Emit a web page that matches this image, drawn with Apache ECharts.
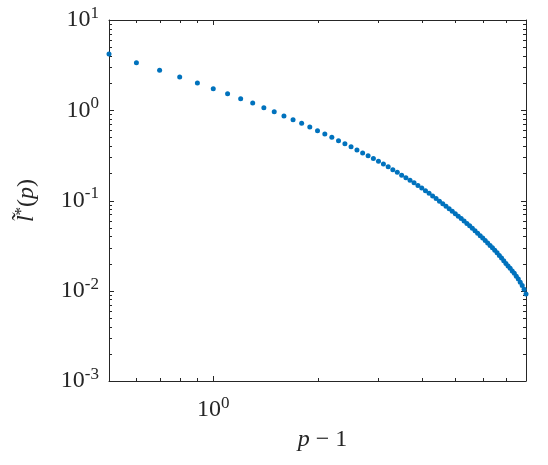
<!DOCTYPE html>
<html>
<head>
<meta charset="utf-8">
<script src="https://cdn.jsdelivr.net/npm/echarts@6/dist/echarts.min.js"></script>
<style>html,body{margin:0;padding:0;background:#fff}#c{width:548px;height:465px}</style>
</head>
<body>
<div id="c"></div>
<script>
// p - 1 values
const xValues = [0.5,0.6,0.7,0.8,0.9,1.0,1.1,1.2,1.3,1.4,1.5,1.6,1.7,1.8,1.9,2.0,2.1,2.2,2.3,2.4,2.5,2.6,2.7,2.8,2.9,3.0,3.1,3.2,3.3,3.4,3.5,3.6,3.7,3.8,3.9,4.0,4.1,4.2,4.3,4.4,4.5,4.6,4.7,4.8,4.9,5.0,5.1,5.2,5.3,5.4,5.5,5.6,5.7,5.8,5.9,6.0,6.1,6.2,6.3,6.4,6.5,6.6,6.7,6.8,6.9,7.0,7.1,7.2,7.3,7.4,7.5,7.6,7.7,7.8,7.9,8.0];
// l~*(p) values
const yValues = [4.20,3.365,2.767,2.333,2.005,1.734,1.528,1.343,1.202,1.067,0.964,0.863,0.783,0.716,0.652,0.594,0.545,0.501,0.460,0.425,0.393,0.363,0.337,0.313,0.292,0.272,0.253,0.236,0.219,0.205,0.191,0.179,0.1675,0.157,0.147,0.1374,0.1285,0.1202,0.1125,0.1052,0.0984,0.0923,0.0865,0.0811,0.0760,0.0714,0.0671,0.0631,0.0593,0.0557,0.0524,0.0492,0.0462,0.0435,0.0408,0.0384,0.0361,0.0339,0.0318,0.0299,0.0281,0.0263,0.0246,0.0230,0.0215,0.0201,0.0188,0.0177,0.0166,0.0156,0.0145,0.0135,0.0124,0.0114,0.0104,0.0092];

const xMajorTicks = [1];
const xMinorTicks = [0.6,0.7,0.8,0.9,2,3,4,5,6,7];
const xLabelTicks = [1];
const yMajorTicks = [0.001,0.01,0.1,1,10];
const yMinorTicks = [0.002,0.003,0.004,0.005,0.006,0.007,0.008,0.009,
                     0.02,0.03,0.04,0.05,0.06,0.07,0.08,0.09,
                     0.2,0.3,0.4,0.5,0.6,0.7,0.8,0.9,
                     2,3,4,5,6,7,8,9];

const X_MIN = 0.5, X_MAX = 8, Y_MIN = 0.001, Y_MAX = 10;
const AX = '#262626';
const FONT = '"Liberation Serif", "Times New Roman", serif';
const pts = xValues.map((x, i) => [x, yValues[i]]);

function supLabel(v) {
  const e = Math.round(Math.log10(v));
  return '{b|10}{s|' + e + '}';
}
const rich = {
  b: {fontSize: 24, fontFamily: FONT, color: AX},
  s: {fontSize: 17, fontFamily: FONT, color: AX, padding: [0, 0, 13, 0]}
};

function xAx(pos, labels) {
  return {
    type: 'log', logBase: 10, min: X_MIN, max: X_MAX, position: pos,
    axisLine: {show: true, onZero: false, lineStyle: {color: AX, width: 1}},
    axisTick: {show: false},
    axisLabel: labels ? {show: true, customValues: xLabelTicks, formatter: supLabel, rich: rich, margin: 14} : {show: false},
    splitLine: {show: false}, minorTick: {show: false}
  };
}
function yAx(pos, labels) {
  return {
    type: 'log', logBase: 10, min: Y_MIN, max: Y_MAX, position: pos,
    axisLine: {show: true, onZero: false, lineStyle: {color: AX, width: 1}},
    axisTick: {show: false},
    axisLabel: labels ? {show: true, customValues: yMajorTicks, formatter: supLabel, rich: rich, margin: 10} : {show: false},
    splitLine: {show: false}, minorTick: {show: false}
  };
}

const xAxes = [xAx('bottom', true), xAx('top', false)];
xAxes[0].name = '{i|p}{n| − 1}';
xAxes[0].nameLocation = 'middle';
xAxes[0].nameGap = 47;
xAxes[0].nameTextStyle = {padding: [0, 0, 0, 10], rich: {
  i: {fontSize: 24, fontFamily: FONT, fontStyle: 'italic', color: AX},
  n: {fontSize: 24, fontFamily: FONT, color: AX}
}};

const yAxes = [yAx('left', true), yAx('right', false)];
yAxes[0].name = '{i|l\u0303}{s|*}{n|(}{i|p}{n|)}';
yAxes[0].nameLocation = 'middle';
yAxes[0].nameGap = 68;
yAxes[0].nameRotate = 90;
yAxes[0].nameTextStyle = {rich: {
  i: {fontSize: 24, fontFamily: FONT, fontStyle: 'italic', color: AX},
  n: {fontSize: 24, fontFamily: FONT, color: AX},
  s: {fontSize: 17, fontFamily: FONT, color: AX, padding: [0, 0, 11, 0]}
}};

// tick data: [x, y, major?]
const xTickData = xMajorTicks.map(v => [v, Y_MIN, 1]).concat(xMinorTicks.map(v => [v, Y_MIN, 0]));
const yTickData = yMajorTicks.map(v => [X_MIN, v, 1]).concat(yMinorTicks.map(v => [X_MIN, v, 0]));

const tickStyle = {stroke: AX, lineWidth: 1};
function xTickRender(params, api) {
  const x = api.value(0);
  const major = api.value(2) === 1;
  const len = major ? 5 : 3;
  const b = api.coord([x, Y_MIN]);
  const t = api.coord([x, Y_MAX]);
  const px = Math.round(b[0]) + 0.5;
  return {type: 'group', children: [
    {type: 'line', shape: {x1: px, y1: b[1], x2: px, y2: b[1] - len}, style: tickStyle},
    {type: 'line', shape: {x1: px, y1: t[1], x2: px, y2: t[1] + len}, style: tickStyle}
  ]};
}
function yTickRender(params, api) {
  const y = api.value(1);
  const major = api.value(2) === 1;
  const len = major ? 5 : 3;
  const l = api.coord([X_MIN, y]);
  const r = api.coord([X_MAX, y]);
  const py = Math.round(l[1]) + 0.5;
  return {type: 'group', children: [
    {type: 'line', shape: {x1: l[0], y1: py, x2: l[0] + len, y2: py}, style: tickStyle},
    {type: 'line', shape: {x1: r[0], y1: py, x2: r[0] - len, y2: py}, style: tickStyle}
  ]};
}

const chart = echarts.init(document.getElementById('c'), null, {renderer: 'canvas'});
chart.setOption({
  animation: false,
  backgroundColor: '#ffffff',
  grid: {left: 109, top: 20, width: 417, height: 361, containLabel: false},
  xAxis: xAxes,
  yAxis: yAxes,
  series: [
    {
      type: 'custom', xAxisIndex: 0, yAxisIndex: 0, silent: true, clip: false,
      encode: {x: 0, y: 1}, data: xTickData, renderItem: xTickRender, z: 1
    },
    {
      type: 'custom', xAxisIndex: 0, yAxisIndex: 0, silent: true, clip: false,
      encode: {x: 0, y: 1}, data: yTickData, renderItem: yTickRender, z: 1
    },
    {
      type: 'scatter',
      xAxisIndex: 0, yAxisIndex: 0,
      data: pts,
      symbol: 'circle',
      symbolSize: 5,
      itemStyle: {color: '#0072BD', opacity: 1},
      z: 3
    }
  ]
});
</script>
</body>
</html>
